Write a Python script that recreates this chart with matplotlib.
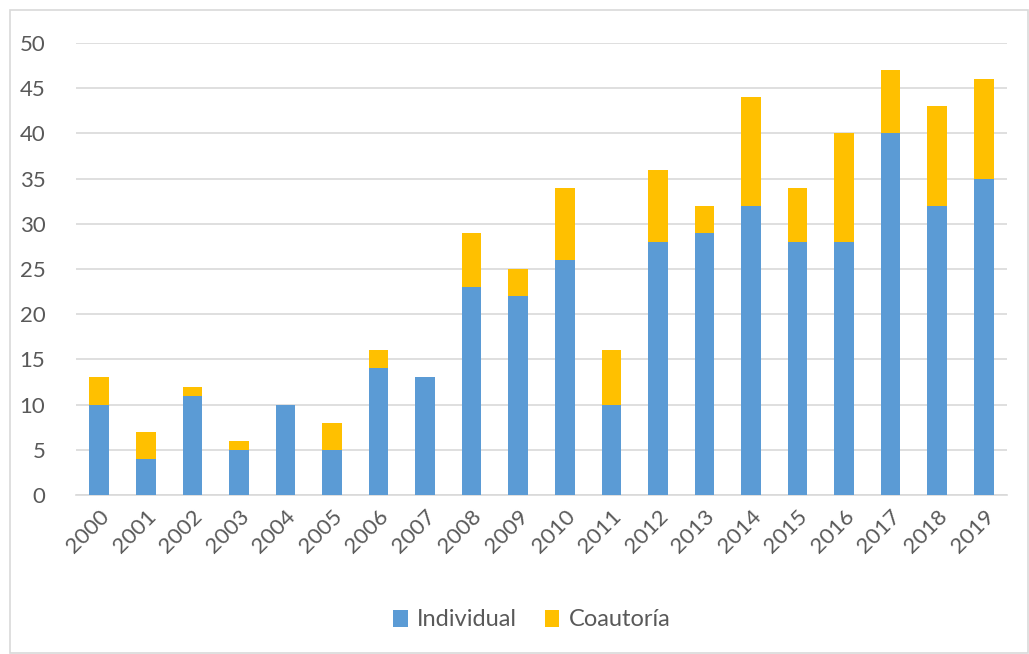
import matplotlib
matplotlib.use("Agg")
import matplotlib.pyplot as plt
from matplotlib.patches import Rectangle
import numpy as np

years = ["2000", "2001", "2002", "2003", "2004", "2005", "2006", "2007", "2008", "2009",
         "2010", "2011", "2012", "2013", "2014", "2015", "2016", "2017", "2018", "2019"]
individual = [10, 4, 11, 5, 10, 5, 14, 13, 23, 22, 26, 10, 28, 29, 32, 28, 28, 40, 32, 35]
coautoria = [3, 3, 1, 1, 0, 3, 2, 0, 6, 3, 8, 6, 8, 3, 12, 6, 12, 7, 11, 11]
yticks = [0, 5, 10, 15, 20, 25, 30, 35, 40, 45, 50]

plt.rcParams['font.family'] = ['Lato', 'DejaVu Sans']
text_color = '#595959'
grid_color = '#D9D9D9'

fig = plt.figure(figsize=(10.29, 6.54), dpi=100)
fig.patches.append(Rectangle((10/1029, 0.002), 1 - 10/1029 - 0.001, 1 - 10/654 - 0.002,
                             transform=fig.transFigure, fill=False,
                             edgecolor=grid_color, linewidth=1.2))
ax = fig.add_axes([76/1029, 1 - 495/654, (1007 - 76)/1029, (495 - 43)/654])

x = np.arange(len(years))
w = 0.42
ax.bar(x, individual, width=w, color='#5B9BD5', label='Individual', zorder=3)
ax.bar(x, coautoria, width=w, bottom=individual, color='#FFC000', label='Coautoría', zorder=3)

ax.set_xlim(-0.5, len(years) - 0.5)
ax.set_ylim(0, 50)
ax.set_yticks(yticks)
ax.set_yticklabels([str(v) for v in yticks], fontsize=16, color=text_color)
ax.set_xticks(x)
ax.set_xticklabels(years, rotation=45, ha='right', rotation_mode='anchor',
                   fontsize=16, color=text_color)
ax.tick_params(axis='both', length=0)
ax.tick_params(axis='y', pad=22)
ax.tick_params(axis='x', pad=8)
ax.yaxis.grid(True, color=grid_color, linewidth=1.2, zorder=0)
ax.set_axisbelow(True)
for s in ['top', 'right', 'left']:
    ax.spines[s].set_visible(False)
ax.spines['bottom'].set_color(grid_color)
ax.spines['bottom'].set_linewidth(1.2)

leg = fig.legend(loc='center', bbox_to_anchor=(532/1029, 1 - 620/654), ncol=2,
                 frameon=False, fontsize=17, handlelength=0.6, handleheight=0.75,
                 handletextpad=0.4, columnspacing=1.2)
for t in leg.get_texts():
    t.set_color(text_color)

fig.savefig("out.png", dpi=100)
